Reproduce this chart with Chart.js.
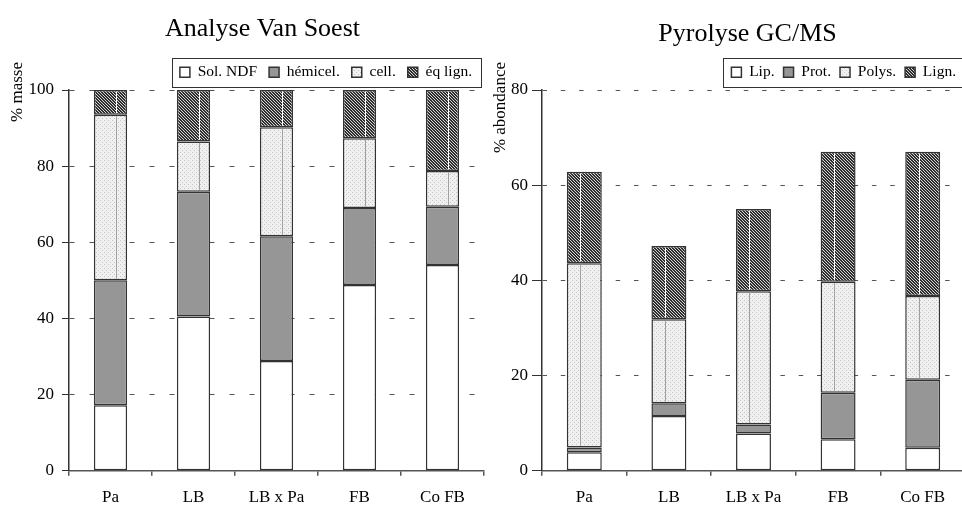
<!DOCTYPE html>
<html>
<head>
<meta charset="utf-8">
<script src="https://cdn.jsdelivr.net/npm/chart.js@4.4.0/dist/chart.umd.min.js"></script>
<style>
  html, body { margin: 0; padding: 0; background: #fff; overflow: hidden; width: 962px; height: 516px; }
  canvas { position: absolute; top: 0; }
  #soest { left: 0; }
  #pyro { left: 484px; }
</style>
</head>
<body>
<canvas id="soest" width="488" height="516"></canvas>
<canvas id="pyro" width="491" height="516"></canvas>
<script>
const categories = ["Pa", "LB", "LB x Pa", "FB", "Co FB"];

// Analyse Van Soest, % masse
const soestSeries = ["Sol. NDF", "hémicel.", "cell.", "éq lign."];
const solNdf  = [17.2, 40.5, 28.8, 48.8, 54.0];
const hemicel = [32.8, 32.8, 32.8, 20.2, 15.3];
const cell    = [43.5, 13.2, 28.6, 18.3, 9.4];
const eqLign  = [6.5, 13.5, 9.8, 12.7, 21.3];
const soestTicks = [0, 20, 40, 60, 80, 100];

// Pyrolyse GC/MS, % abondance
const pyroSeries = ["Lip.", "Prot.", "Polys.", "Lign."];
const lip   = [3.9, 11.5, 7.8, 6.6, 4.8];
const prot  = [1.0, 2.7, 1.9, 9.8, 14.3];
const polys = [38.7, 17.6, 28.0, 23.3, 17.6];
const lign  = [19.2, 15.4, 17.3, 27.3, 30.3];
const pyroTicks = [0, 20, 40, 60, 80];

const serif = "'Liberation Serif', 'Times New Roman', serif";

function makePattern(size, paint) {
  const c = document.createElement("canvas");
  c.width = c.height = size;
  const g = c.getContext("2d");
  paint(g);
  return g.createPattern(c, "repeat");
}

// fine grey dots
const dotted = makePattern(4, g => {
  g.fillStyle = "#f0f0f0";
  g.fillRect(0, 0, 4, 4);
  g.fillStyle = "#c4c4c4";
  g.fillRect(0, 0, 1, 1);
  g.fillRect(2, 2, 1, 1);
});

// dense dark diagonal hatch
const hatched = makePattern(3, g => {
  g.fillStyle = "#d4d4d4";
  g.fillRect(0, 0, 3, 3);
  g.fillStyle = "#2e2e2e";
  for (let y = 0; y < 3; y++)
    for (let x = 0; x < 3; x++)
      if ((((x - y) % 3) + 3) % 3 < 2) g.fillRect(x, y, 1, 1);
});

const fills = ["#ffffff", "#969696", dotted, hatched];
const seamColors = [null, null, "#a0a0a0", "#ffffff"];

// chart title, y title, frame round the legend, seam down the patterned segments
const decorations = {
  id: "decorations",
  afterDatasetsDraw(chart, args, opts) {
    const ctx = chart.ctx;
    ctx.save();
    ctx.lineWidth = 1;
    chart.data.datasets.forEach((ds, i) => {
      if (!seamColors[i]) return;
      ctx.strokeStyle = seamColors[i];
      chart.getDatasetMeta(i).data.forEach(bar => {
        const x = Math.round(bar.x + bar.width * opts.seam) + 0.5;
        ctx.beginPath();
        ctx.moveTo(x, bar.y + 1.5);
        ctx.lineTo(x, bar.base - 1.5);
        ctx.stroke();
      });
    });
    ctx.restore();
  },
  afterDraw(chart, args, opts) {
    const ctx = chart.ctx;
    const area = chart.chartArea;
    const boxes = chart.legend.legendHitBoxes;
    const first = boxes[0];
    const last = boxes[boxes.length - 1];
    ctx.save();
    ctx.strokeStyle = "#333";
    ctx.lineWidth = 1;
    const x0 = Math.round(first.left - 8) + 0.5;
    const x1 = Math.round(last.left + last.width + 9) + 0.5;
    const y0 = Math.round(first.top - 7) + 0.5;
    const y1 = Math.round(first.top + first.height + 7) + 0.5;
    ctx.strokeRect(x0, y0, x1 - x0, y1 - y0);

    ctx.fillStyle = "#000";
    ctx.font = "26px " + serif;
    ctx.textAlign = "center";
    ctx.textBaseline = "alphabetic";
    ctx.fillText(opts.title, (area.left + area.right) / 2 + opts.titleShift, opts.titleBaseline);

    ctx.font = "17px " + serif;
    ctx.translate(opts.yTitleX, area.top - 28);
    ctx.rotate(-Math.PI / 2);
    ctx.textAlign = "right";
    ctx.textBaseline = "middle";
    ctx.fillText(opts.yTitle, 0, 0);
    ctx.restore();
  }
};

function buildChart(id, cfg) {
  const tickFont = { family: serif, size: 17 };
  return new Chart(document.getElementById(id), {
    type: "bar",
    data: {
      labels: categories,
      datasets: cfg.values.map((vals, i) => ({
        label: cfg.series[i],
        data: vals,
        backgroundColor: fills[i],
        borderColor: "#333",
        borderWidth: 1.5,
        borderSkipped: false,
        barPercentage: cfg.barPct,
        categoryPercentage: 1
      }))
    },
    options: {
      responsive: false,
      animation: false,
      layout: { padding: { left: 0, right: cfg.padRight, top: 49, bottom: 0 } },
      plugins: {
        title: { display: false },
        legend: {
          position: "top",
          align: "end",
          labels: {
            boxWidth: 10,
            boxHeight: 10,
            padding: cfg.legendGap,
            color: "#000",
            font: { family: serif, size: 15.5 }
          }
        },
        tooltip: { enabled: false },
        decorations: {
          title: cfg.title,
          titleShift: cfg.titleShift,
          titleBaseline: cfg.titleBaseline,
          yTitle: cfg.yTitle,
          yTitleX: cfg.yTitleX,
          seam: cfg.seam
        }
      },
      scales: {
        x: {
          stacked: true,
          grid: { offset: true, drawOnChartArea: false, tickLength: 5, color: "#555", lineWidth: 1.5 },
          border: { color: "#555", width: 1.5 },
          ticks: { padding: 12, color: "#000", font: tickFont, maxRotation: 0, autoSkip: false },
          afterFit: s => { s.height = 45.3; }
        },
        y: {
          stacked: true,
          min: 0,
          max: cfg.ticks[cfg.ticks.length - 1],
          grid: { color: "#555", lineWidth: 1, tickLength: cfg.tickLen, tickColor: "#333" },
          border: { color: "#333", width: 1.5, dash: cfg.dash },
          ticks: { padding: cfg.tickPad, color: "#000", font: tickFont },
          afterBuildTicks: s => { s.ticks = cfg.ticks.map(v => ({ value: v })); },
          afterFit: s => { s.width = cfg.axisW; s.paddingTop = 90; }
        }
      }
    },
    plugins: [decorations]
  });
}

buildChart("soest", {
  title: "Analyse Van Soest",
  titleShift: -14,
  titleBaseline: 35.7,
  series: soestSeries,
  values: [solNdf, hemicel, cell, eqLign],
  ticks: soestTicks,
  yTitle: "% masse",
  yTitleX: 18,
  padRight: 4, axisW: 69,
  legendGap: 12,
  tickLen: 7, tickPad: 8,
  dash: [5, 15],
  barPct: 0.4,
  seam: 0.18
});

buildChart("pyro", {
  title: "Pyrolyse GC/MS",
  titleShift: -6,
  titleBaseline: 40.7,
  series: pyroSeries,
  values: [lip, prot, polys, lign],
  ticks: pyroTicks,
  yTitle: "% abondance",
  yTitleX: 17,
  padRight: 10, axisW: 58,
  legendGap: 9,
  tickLen: 10, tickPad: 4,
  dash: [4.5, 13.8],
  barPct: 0.413,
  seam: -0.12
});
</script>
</body>
</html>
